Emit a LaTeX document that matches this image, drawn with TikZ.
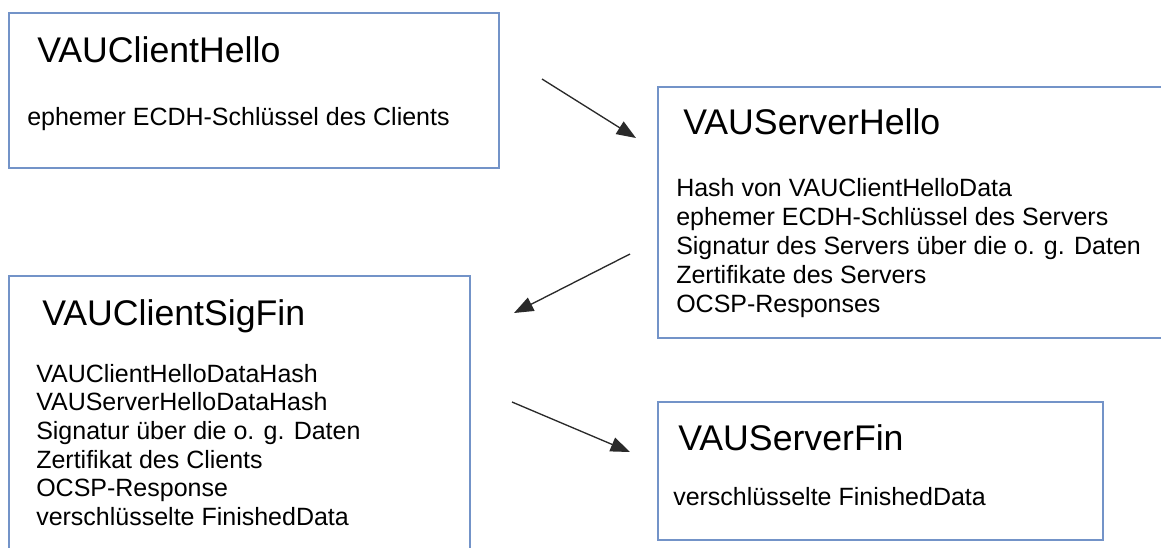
\documentclass[tikz,border=0pt]{standalone}
\usepackage{fontspec}
\setmainfont{Liberation Sans}
\usetikzlibrary{arrows.meta}
\definecolor{boxblue}{HTML}{7393C8}
\definecolor{arrowgray}{HTML}{2A2A2A}
\begin{document}
\begin{tikzpicture}[x=0.75pt,y=-0.75pt,
  box/.style={draw=boxblue,line width=1.1pt},
  title/.style={anchor=base west,inner sep=0pt,font=\fontsize{26.75}{30}\selectfont},
  body/.style={anchor=base west,inner sep=0pt,font=\fontsize{18.75}{21.75}\selectfont},
  flow/.style={draw=arrowgray,line width=1pt,-{Triangle[length=14.5pt,width=11pt]}}]
\useasboundingbox (0,0) rectangle (1161,547);
\clip (0,0) rectangle (1161,547);
% boxes
\draw[box] (9,13) rectangle (499,168);
\draw[box] (658,87) rectangle (1175,338);
\draw[box] (9,276) rectangle (470,560);
\draw[box] (658,402) rectangle (1103,540);
% box 1
\node[title] (t1) at (37,62) {VAUClientHello};
\node[body] (b1a) at (27,125) {ephemer ECDH-Schlüssel des Clients};
% box 2
\node[title] (t2) at (683,134) {VAUServerHello};
\node[body] (b2a) at (676,196) {Hash von VAUClientHelloData};
\node[body] (b2b) at (676,225) {ephemer ECDH-Schlüssel des Servers};
\node[body] (b2c) at (676,254) {Signatur des Servers über die o. g. Daten};
\node[body] (b2d) at (676,283) {Zertifikate des Servers};
\node[body] (b2e) at (676,312) {OCSP-Responses};
% box 3
\node[title] (t3) at (42,325) {VAUClientSigFin};
\node[body] (b3a) at (36,382) {VAUClientHelloDataHash};
\node[body] (b3b) at (36,410) {VAUServerHelloDataHash};
\node[body] (b3c) at (36,439) {Signatur über die o. g. Daten};
\node[body] (b3d) at (36,468) {Zertifikat des Clients};
\node[body] (b3e) at (36,496) {OCSP-Response};
\node[body] (b3f) at (36,525) {verschlüsselte FinishedData};
% box 4
\node[title] (t4) at (678,450) {VAUServerFin};
\node[body] (b4a) at (673,505) {verschlüsselte FinishedData};
% arrows
\coordinate (a1s) at (542,79);
\coordinate (a1e) at (636,138);
\coordinate (a2s) at (630,254);
\coordinate (a2e) at (514,313);
\coordinate (a3s) at (512,402);
\coordinate (a3e) at (630,452);
\draw[flow] (a1s) -- (a1e);
\draw[flow] (a2s) -- (a2e);
\draw[flow] (a3s) -- (a3e);
\end{tikzpicture}
\end{document}
